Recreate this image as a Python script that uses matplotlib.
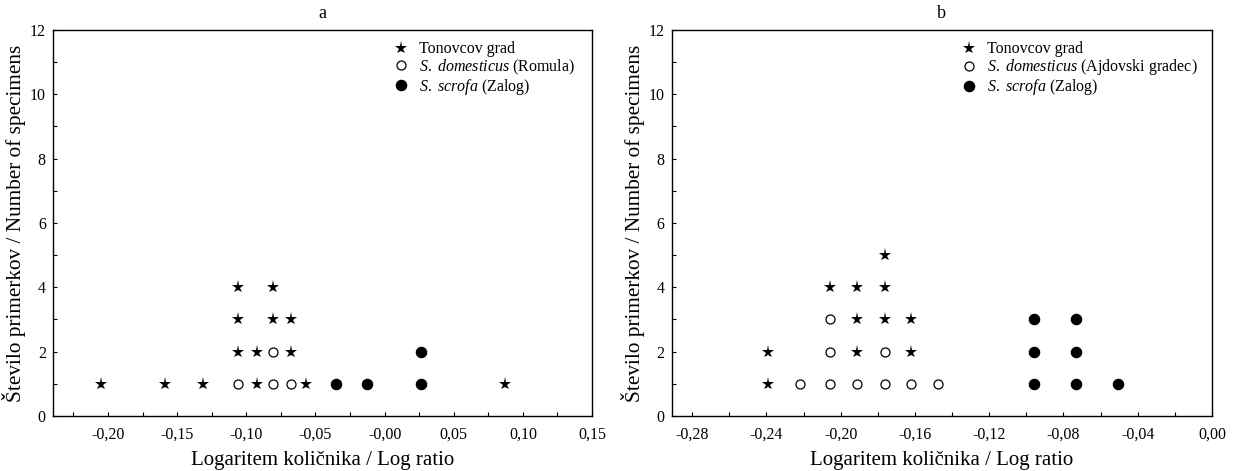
import matplotlib.pyplot as plt

plt.rcParams['font.family'] = ['Liberation Serif', 'DejaVu Serif']
plt.rcParams['mathtext.fontset'] = 'custom'
plt.rcParams['mathtext.rm'] = 'Liberation Serif'
plt.rcParams['mathtext.it'] = 'Liberation Serif:italic'

# Panel a: Tonovcov grad vs S. domesticus (Romula) vs S. scrofa (Zalog)
a_star_x = [-0.205, -0.159, -0.131, -0.092, -0.057, 0.087,
            -0.106, -0.092, -0.068,
            -0.106, -0.081, -0.068,
            -0.106, -0.081]
a_star_y = [1, 1, 1, 1, 1, 1,
            2, 2, 2,
            3, 3, 3,
            4, 4]
a_open_x = [-0.106, -0.081, -0.068, -0.081]
a_open_y = [1, 1, 1, 2]
a_fill_x = [-0.035, -0.013, 0.026, 0.026]
a_fill_y = [1, 1, 1, 2]
a_xticks = [-0.20, -0.15, -0.10, -0.05, 0.0, 0.05, 0.10, 0.15]
a_xticklabels = ['-0,20', '-0,15', '-0,10', '-0,05', '-0,00', '0,05', '0,10', '0,15']

# Panel b: Tonovcov grad vs S. domesticus (Ajdovski gradec) vs S. scrofa (Zalog)
b_star_x = [-0.239, -0.239, -0.206, -0.191, -0.191, -0.191,
            -0.176, -0.176, -0.176, -0.162, -0.162]
b_star_y = [1, 2, 4, 2, 3, 4, 3, 4, 5, 2, 3]
b_open_x = [-0.222, -0.206, -0.206, -0.206, -0.191, -0.176, -0.176, -0.162, -0.1475]
b_open_y = [1, 1, 2, 3, 1, 1, 2, 1, 1]
b_fill_x = [-0.096, -0.096, -0.096, -0.073, -0.073, -0.073, -0.0505]
b_fill_y = [1, 2, 3, 1, 2, 3, 1]
b_xticks = [-0.28, -0.24, -0.20, -0.16, -0.12, -0.08, -0.04, 0.0]
b_xticklabels = ['-0,28', '-0,24', '-0,20', '-0,16', '-0,12', '-0,08', '-0,04', '0,00']

yticks = [0, 2, 4, 6, 8, 10, 12]


def draw_panel(ax, title, sx, sy, ox, oy, fx, fy, site, xlim, xticks, xlabels, minor_step,
               leg_x):
    ax.plot(sx, sy, ls='none', marker='*', ms=9.5, color='black', mew=0,
            label='Tonovcov grad')
    ax.plot(ox, oy, ls='none', marker='o', ms=6.5, mfc='white', mec='black', mew=0.9,
            label=r'$S.$ $domesticus$ (' + site + ')')
    ax.plot(fx, fy, ls='none', marker='o', ms=7.3, color='black',
            label=r'$S.$ $scrofa$ (Zalog)')
    ax.set_xlim(*xlim)
    ax.set_ylim(0, 12)
    ax.set_xticks(xticks)
    ax.set_xticklabels(xlabels)
    minor = [xticks[0] - minor_step / 2 + minor_step * i for i in range(len(xticks) * 2)]
    ax.set_xticks([m for m in minor if xlim[0] <= m <= xlim[1]], minor=True)
    ax.set_yticks(yticks)
    ax.set_yticks([1, 3, 5, 7, 9, 11], minor=True)
    ax.tick_params(which='both', direction='in', labelsize=11.5, width=0.8, length=3, pad=5)
    ax.tick_params(axis='x', which='both', pad=8)
    for s in ax.spines.values():
        s.set_linewidth(1.0)
    ax.set_title(title, fontsize=13, pad=9)
    ax.set_xlabel('Logaritem količnika / Log ratio', fontsize=15, labelpad=6)
    ax.set_ylabel('Število primerkov / Number of specimens', fontsize=15.3, labelpad=3)
    ax.legend(loc='upper right', bbox_to_anchor=(leg_x, 1.008), frameon=False, fontsize=11.5,
              handletextpad=0.4, borderpad=0.4, labelspacing=0.0, handlelength=1.4)


fig = plt.figure(figsize=(12.37, 4.71), dpi=100)
ax1 = fig.add_axes([0.0426, 0.1168, 0.436, 0.8195])
ax2 = fig.add_axes([0.543, 0.1168, 0.4368, 0.8195])

draw_panel(ax1, 'a', a_star_x, a_star_y, a_open_x, a_open_y, a_fill_x, a_fill_y,
           'Romula', (-0.24, 0.15), a_xticks, a_xticklabels, 0.05, 0.995)
draw_panel(ax2, 'b', b_star_x, b_star_y, b_open_x, b_open_y, b_fill_x, b_fill_y,
           'Ajdovski gradec', (-0.291, 0.0), b_xticks, b_xticklabels, 0.04, 1.0)

fig.savefig('out.png', dpi=100)
